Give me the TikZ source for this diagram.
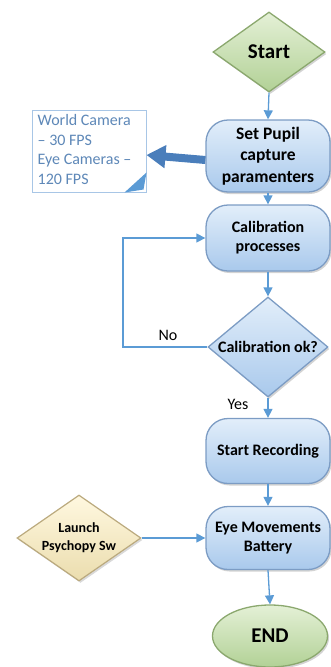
\documentclass[tikz,border=0pt]{standalone}
\usepackage{fontspec}
\setmainfont{Carlito}
\usetikzlibrary{shapes.geometric,arrows.meta,shadows}
\definecolor{flow}{HTML}{5B9BD5}
\definecolor{boxtop}{HTML}{E2EEFA}
\definecolor{boxbot}{HTML}{A9C9EC}
\definecolor{boxline}{HTML}{7C9CC4}
\definecolor{greentop}{HTML}{E4F0D6}
\definecolor{greenbot}{HTML}{B2D196}
\definecolor{greenline}{HTML}{8BA86E}
\definecolor{creamtop}{HTML}{FFF8E0}
\definecolor{creambot}{HTML}{EBDDAE}
\definecolor{creamline}{HTML}{BBAA7E}
\definecolor{notetext}{HTML}{5E88B8}
\definecolor{noteline}{HTML}{A8C6E6}
\definecolor{bigarrow}{HTML}{4A7EBB}
\tikzset{
  procbox/.style={rectangle, rounded corners=22pt, minimum width=124pt, minimum height=#1,
    top color=boxtop, bottom color=boxbot, draw=boxline, line width=1.3pt,
    drop shadow={shadow xshift=1.5pt, shadow yshift=-2pt, opacity=.35},
    align=center, font=\fontsize{16}{19}\selectfont\bfseries, inner sep=0pt},
  greenshape/.style={top color=greentop, bottom color=greenbot, draw=greenline, line width=1.3pt,
    drop shadow={shadow xshift=1.5pt, shadow yshift=-2pt, opacity=.35},
    font=\fontsize{21}{24}\selectfont\bfseries, inner sep=0pt},
  flowline/.style={draw=flow, line width=1.3pt, -{Triangle[length=9pt,width=9pt]}},
  lbl/.style={font=\fontsize{16}{19}\selectfont, inner sep=0pt}
}
\begin{document}
\begin{tikzpicture}[x=1pt,y=-1pt]
\useasboundingbox (0,0) rectangle (330,667);
\node[diamond, greenshape, minimum width=112pt, minimum height=80pt] (start) at (269,52) {\makebox[0pt]{Start}};
\node[procbox=72pt, font=\fontsize{17.5}{21.5}\selectfont\bfseries] (setp) at (268,156) {Set Pupil\\capture\\paramenters};
\node[procbox=66pt] (calib) at (268,238) {Calibration\\processes};
\node[diamond, top color=boxtop, bottom color=boxbot, draw=boxline, line width=1.3pt,
  drop shadow={shadow xshift=1.5pt, shadow yshift=-2pt, opacity=.35},
  minimum width=120pt, minimum height=100pt, inner sep=0pt,
  font=\fontsize{16}{19}\selectfont\bfseries] (ok) at (268,347) {\makebox[0pt]{Calibration ok?}};
\node[procbox=65pt] (rec) at (268,451) {Start Recording};
\node[procbox=63pt] (eye) at (268,538) {Eye Movements\\Battery};
\node[diamond, top color=creamtop, bottom color=creambot, draw=creamline, line width=1.2pt,
  drop shadow={shadow xshift=1.5pt, shadow yshift=-2pt, opacity=.3},
  minimum width=124pt, minimum height=86pt, inner sep=0pt, align=center,
  font=\fontsize{14}{18}\selectfont\bfseries] (launch) at (79,538) {\makebox[0pt]{Launch}\\\makebox[0pt]{Psychopy Sw}};
\node[ellipse, greenshape, minimum width=115pt, minimum height=62pt] (endn) at (270,636) {END};
% note
\node[rectangle, draw=noteline, fill=white, line width=1pt, minimum width=114pt, minimum height=82pt,
  inner sep=0pt] (note) at (89,151) {};
\node[anchor=north west, align=left, text=notetext, font=\fontsize{16}{19.5}\selectfont, inner sep=0pt]
  (notetxt) at ([xshift=6pt,yshift=-5pt]note.north west) {World Camera\\– 30 FPS\\Eye Cameras –\\120 FPS};
\coordinate (dogA) at ([yshift=20pt]note.south east);
\coordinate (dogB) at ([xshift=-22pt]note.south east);
\coordinate (dogC) at ([xshift=-3pt,yshift=3pt]note.south east);
\fill[flow] (dogA) -- (dogB) -- (dogC) -- cycle;
% connectors
\draw[flowline] (start.south) -- (setp.north);
\draw[flowline] (setp.south) -- (calib.north);
\draw[flowline] (calib.south) -- (ok.north);
\draw[flowline] (ok.south) -- (rec.north);
\draw[flowline] (rec.south) -- (eye.north);
\draw[flowline] (eye.south) -- (endn.north);
\draw[flowline] (launch.east) -- (eye.west);
\coordinate (loopA) at (123,347);
\coordinate (loopB) at (123,238);
\draw[flowline] (ok.west) -- (loopA) -- (loopB) -- (calib.west);
\draw[draw=bigarrow, line width=8pt, -{Triangle[length=19pt,width=22pt]}] ([yshift=-4pt]setp.west) -- ([yshift=-4pt]note.east);
\node[lbl] (no) at (168,335) {No};
\node[lbl] (yes) at (238,404) {Yes};
\end{tikzpicture}
\end{document}
